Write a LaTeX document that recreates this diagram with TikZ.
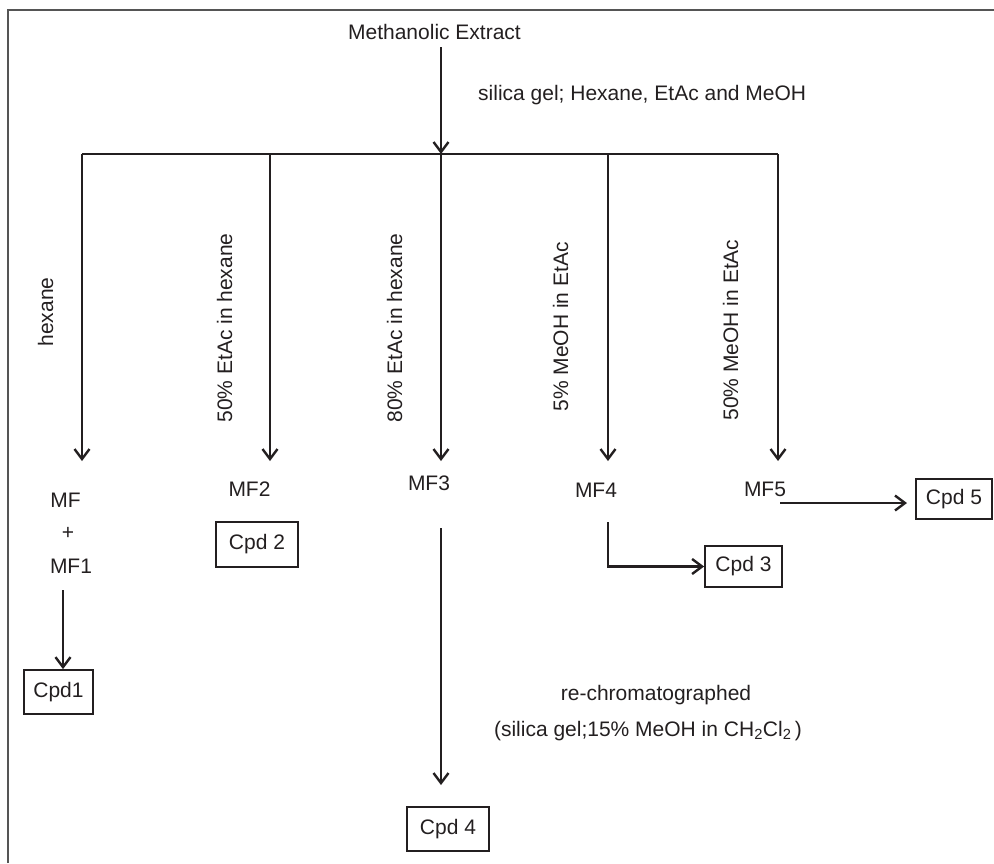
\documentclass[tikz,border=0pt]{standalone}
\usepackage{fontspec}
\setmainfont{Liberation Sans}
\usetikzlibrary{arrows.meta}
\definecolor{ink}{HTML}{231F20}
\definecolor{frame}{HTML}{555555}
\tikzset{
  lbl/.style={font=\fontsize{21}{25}\selectfont, text=ink, inner sep=0pt},
  vlbl/.style={lbl, rotate=90, anchor=base},
  cpd/.style={lbl, draw=ink, line width=1.8pt, anchor=center},
  arr/.style={draw=ink, line width=2.4pt, -{Straight Barb[length=10pt,width=15pt,line width=2.4pt]}},
  ln/.style={draw=ink, line width=2.4pt},
}
\begin{document}
\begin{tikzpicture}[x=1pt,y=-1pt]
\useasboundingbox (0,0) rectangle (994,863);
% frame
\draw[frame, line width=1.5pt] (8,863) -- (8,10) -- (994,10);

% top
\node[lbl, anchor=base] (ME) at (434.5,39) {Methanolic Extract};
\node[lbl, anchor=base west] (cond) at (478,100) {silica gel; Hexane, EtAc and MeOH};
\coordinate (s0) at (441,47);
\coordinate (j0) at (441,154);
\draw[arr] (s0) -- (j0);

% bus
\coordinate (b1) at (82,154);
\coordinate (b2) at (270,154);
\coordinate (b3) at (441,154);
\coordinate (b4) at (608,154);
\coordinate (b5) at (778,154);
\draw[ln] (b1) -- (b5);
\coordinate (t1) at (82,461);
\coordinate (t2) at (270,461);
\coordinate (t3) at (441,461);
\coordinate (t4) at (608,461);
\coordinate (t5) at (778,461);
\draw[arr] (b1) -- (t1);
\draw[arr] (b2) -- (t2);
\draw[arr] (b3) -- (t3);
\draw[arr] (b4) -- (t4);
\draw[arr] (b5) -- (t5);

% rotated labels
\node[vlbl] (e1) at (53,312) {hexane};
\node[vlbl] (e2) at (232,328) {50\% EtAc in hexane};
\node[vlbl] (e3) at (402,328) {80\% EtAc in hexane};
\node[vlbl] (e4) at (568,327) {5\% MeOH in EtAc};
\node[vlbl] (e5) at (738,330) {50\% MeOH in EtAc};

% fractions
\node[lbl, anchor=base] (MF) at (65.5,507) {MF};
\node[lbl, anchor=base] (plus) at (68,539) {+};
\node[lbl, anchor=base] (MF1) at (71,573) {MF1};
\node[lbl, anchor=base] (MF2) at (249.5,496) {MF2};
\node[lbl, anchor=base] (MF3) at (429,490) {MF3};
\node[lbl, anchor=base] (MF4) at (596,497) {MF4};
\node[lbl, anchor=base] (MF5) at (765,496) {MF5};

% compounds
\node[cpd, minimum width=69pt, minimum height=44pt] (C1) at (58.5,692) {Cpd1};
\node[cpd, minimum width=82pt, minimum height=45pt] (C2) at (257,544.5) {Cpd 2};
\node[cpd, minimum width=77pt, minimum height=41pt] (C3) at (743.5,566.5) {Cpd 3};
\node[cpd, minimum width=82pt, minimum height=44pt] (C4) at (448,829) {Cpd 4};
\node[cpd, minimum width=76pt, minimum height=40pt] (C5) at (954,499) {Cpd 5};

% connectors to compounds
\coordinate (m1) at (63,590);
\draw[arr] (m1) -- (m1 |- C1.north);
\coordinate (m3) at (441,528);
\coordinate (m3e) at (441,785);
\draw[arr] (m3) -- (m3e);
\coordinate (m4) at (608,522);
\draw[arr] (m4) |- (C3.west);
\coordinate (m5) at (780,503);
\coordinate (m5e) at (907,503);
\draw[arr] (m5) -- (m5e);

% re-chromatography note
\node[lbl, anchor=base] (rc) at (656,700) {re-chromatographed};
\node[lbl, anchor=base] (rc2) at (648,736) {(silica gel;15\% MeOH in CH\textsubscript{2}Cl\textsubscript{2}\,)};
\end{tikzpicture}
\end{document}
